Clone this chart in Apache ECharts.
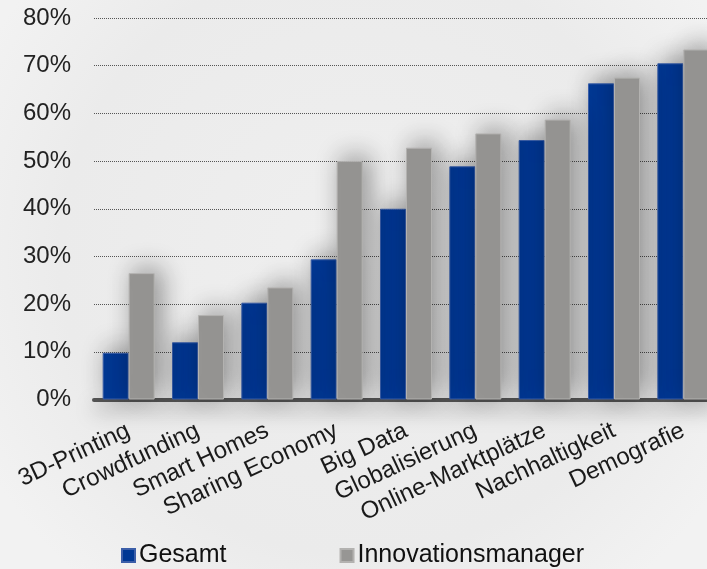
<!DOCTYPE html>
<html>
<head>
<meta charset="utf-8">
<script src="https://cdn.jsdelivr.net/npm/echarts@6/dist/echarts.min.js"></script>
<style>
html,body{margin:0;padding:0;background:#eeeeee;overflow:hidden;width:707px;height:569px;}
#c{width:718px;height:569px;}
</style>
</head>
<body>
<div id="c"></div>
<script>
const categories = ["3D-Printing","Crowdfunding","Smart Homes","Sharing Economy","Big Data","Globalisierung","Online-Marktplätze","Nachhaltigkeit","Demografie"];
const gesamt = [9.8, 12.0, 20.3, 29.4, 40.0, 48.9, 54.4, 66.3, 70.5];
const innovationsmanager = [26.5, 17.7, 23.5, 50.0, 52.8, 55.8, 58.7, 67.5, 73.4];
const seriesNames = ["Gesamt","Innovationsmanager"];
const yTicks = [0,10,20,30,40,50,60,70,80];

const chart = echarts.init(document.getElementById('c'), null, {renderer:'canvas'});
const font = 'Liberation Sans, Arial, Helvetica, sans-serif';
chart.setOption({
  animation:false,
  backgroundColor:{
    type:'radial', x:0.5, y:0.45, r:0.75,
    colorStops:[{offset:0,color:'#efefef'},{offset:0.7,color:'#ebebeb'},{offset:1,color:'#f2f2f2'}]
  },
  grid:{left:94, top:18, right:0, bottom:169.5, containLabel:false},
  legend:{
    data:seriesNames, bottom:1, left:121, padding:0, itemWidth:13, itemHeight:13, itemGap:113,
    icon:'rect',
    textStyle:{fontFamily:font, fontSize:25, color:'#111', padding:[0,0,0,-1]}
  },
  xAxis:{
    type:'category', data:categories,
    axisLine:{show:true, lineStyle:{color:'#555', width:4, shadowBlur:20, shadowColor:'rgba(0,0,0,0.4)', shadowOffsetY:9}},
    axisTick:{show:false},
    axisLabel:{interval:0, rotate:25, margin:30, fontFamily:font, fontSize:24, color:'#1a1a1a'}
  },
  yAxis:{
    type:'value', min:yTicks[0], max:yTicks[yTicks.length-1], interval:10,
    axisLine:{show:false}, axisTick:{show:false},
    axisLabel:{formatter:function(v){return v+'%';}, margin:23, fontFamily:font, fontSize:24, color:'#222'},
    splitLine:{show:true, lineStyle:{type:'dotted', color:'#555', width:1}}
  },
  series:[
    {name:seriesNames[0], type:'bar', data:gesamt, barGap:'0%', barCategoryGap:'25%',
     itemStyle:{color:'#003894', borderColor:'#3b5ea8', borderWidth:1,
       shadowBlur:26, shadowColor:'rgba(0,0,0,0.42)', shadowOffsetX:6, shadowOffsetY:-4}},
    {name:seriesNames[1], type:'bar', data:innovationsmanager, barGap:'0%', barCategoryGap:'25%',
     itemStyle:{color:'#979694', borderColor:'#b3b2b0', borderWidth:1,
       shadowBlur:26, shadowColor:'rgba(0,0,0,0.42)', shadowOffsetX:6, shadowOffsetY:-4}}
  ]
});
</script>
</body>
</html>
